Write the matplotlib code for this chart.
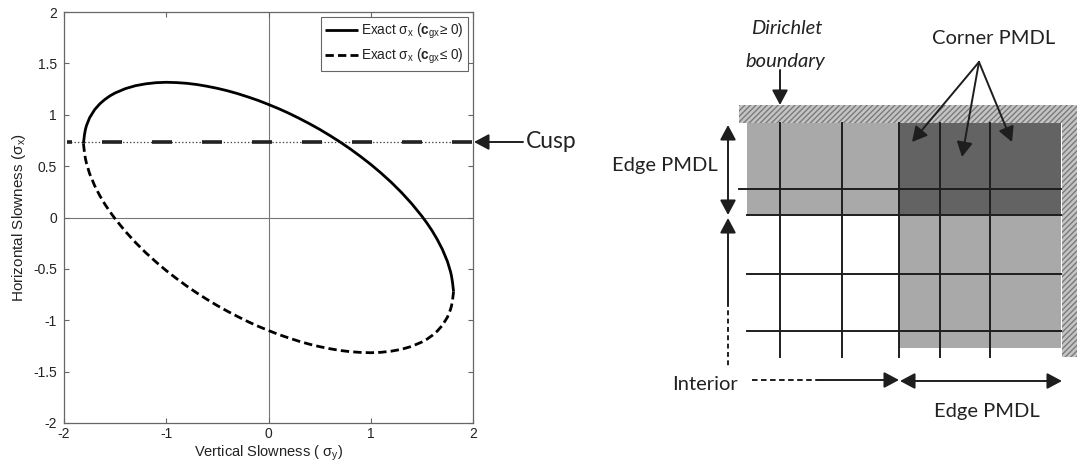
import matplotlib
matplotlib.use('Agg')
import matplotlib.pyplot as plt
from matplotlib.patches import Rectangle, FancyArrowPatch

plt.rcParams['font.family'] = ['Liberation Sans', 'DejaVu Sans']
plt.rcParams['mathtext.fontset'] = 'custom'
plt.rcParams['mathtext.rm'] = 'Liberation Sans'
plt.rcParams['mathtext.it'] = 'Liberation Sans:italic'
plt.rcParams['mathtext.bf'] = 'Liberation Sans:bold'
plt.rcParams['lines.scale_dashes'] = False
plt.rcParams['axes.unicode_minus'] = False

# slowness curve: sigma_y and the two sigma_x branches
sigma_y = [-1.81, -1.80, -1.79, -1.78, -1.75, -1.70, -1.65, -1.60, -1.55, -1.50, -1.40, -1.30,
           -1.20, -1.10, -1.00, -0.90, -0.80, -0.70, -0.60, -0.50, -0.40, -0.30, -0.20, -0.10,
           0.00, 0.10, 0.20, 0.30, 0.40, 0.50, 0.60, 0.70, 0.80, 0.90, 1.00, 1.10, 1.20, 1.30,
           1.40, 1.50, 1.55, 1.60, 1.65, 1.70, 1.75, 1.78, 1.79, 1.80, 1.81]
sx_pos = [0.720, 0.805, 0.859, 0.895, 0.970, 1.050, 1.106, 1.149, 1.184, 1.212, 1.254, 1.283,
          1.301, 1.312, 1.316, 1.313, 1.306, 1.294, 1.277, 1.257, 1.233, 1.205, 1.173, 1.139,
          1.100, 1.059, 1.014, 0.965, 0.913, 0.858, 0.798, 0.735, 0.667, 0.594, 0.517, 0.433,
          0.343, 0.244, 0.135, 0.013, -0.055, -0.129, -0.213, -0.309, -0.428, -0.527, -0.571,
          -0.634, -0.720]
sx_neg = [0.720, 0.634, 0.571, 0.527, 0.428, 0.309, 0.213, 0.129, 0.055, -0.013, -0.135, -0.244,
          -0.343, -0.433, -0.517, -0.594, -0.667, -0.735, -0.798, -0.858, -0.913, -0.965, -1.014,
          -1.059, -1.100, -1.139, -1.173, -1.205, -1.233, -1.257, -1.277, -1.294, -1.306, -1.313,
          -1.316, -1.312, -1.301, -1.283, -1.254, -1.212, -1.184, -1.149, -1.106, -1.050, -0.970,
          -0.895, -0.859, -0.805, -0.720]
cusp_sx = 0.73
cusp_range = [-1.97, 2.0]

x_ticks = [-2, -1, 0, 1, 2]
x_ticklabels = ['-2', '-1', '0', '1', '2']
y_ticks = [-2, -1.5, -1, -0.5, 0, 0.5, 1, 1.5, 2]
y_ticklabels = ['-2', '-1.5', '-1', '-0.5', '0', '0.5', '1', '1.5', '2']

# diagram grid (figure pixels)
grid_x = [780, 842, 899, 940, 990]
grid_y = [189, 215, 274, 331]

W, H = 1077, 468
fig = plt.figure(figsize=(W / 100, H / 100), dpi=100)

# ---- left: slowness plot ----
ax = fig.add_axes([64 / W, 1 - 423 / H, 409 / W, 411 / H], zorder=2)
gray = '#666666'
tc = '#222222'
ax.axhline(0, color='#777777', lw=0.8, zorder=1)
ax.axvline(0, color='#777777', lw=0.8, zorder=1)
ax.plot(cusp_range, [cusp_sx, cusp_sx], color='#444444', lw=0.9, linestyle=(0, (1.0, 1.5)), zorder=2)
ax.plot(cusp_range, [cusp_sx, cusp_sx], color='#222222', lw=2.6, linestyle=(10.8, (14.4, 21.6)), zorder=2)
ax.plot(sigma_y, sx_pos, color='black', lw=2.0, solid_capstyle='butt', solid_joinstyle='round',
        label=r'Exact σ$_\mathrm{x}$ ($\mathbf{c}_\mathrm{gx}$≥ 0)', zorder=3)
ax.plot(sigma_y, sx_neg, color='black', lw=2.0, linestyle=(0, (6, 3)),
        label=r'Exact σ$_\mathrm{x}$ ($\mathbf{c}_\mathrm{gx}$≤ 0)', zorder=3)

ax.set_xlim(-2, 2)
ax.set_ylim(-2, 2)
ax.set_xticks(x_ticks)
ax.set_xticklabels(x_ticklabels)
ax.set_yticks(y_ticks)
ax.set_yticklabels(y_ticklabels)
ax.tick_params(direction='in', length=3.5, width=0.8, color=gray, top=True, right=True,
               labelsize=10, labelcolor=tc)
ax.tick_params(axis='y', pad=5)
ax.tick_params(axis='x', pad=3)
for s in ax.spines.values():
    s.set_color(gray)
    s.set_linewidth(0.9)
ax.set_xlabel(r'Vertical Slowness ( σ$_\mathrm{y}$)', fontsize=10.5, color=tc, labelpad=2)
ax.set_ylabel(r'Horizontal Slowness (σ$_\mathrm{x}$)', fontsize=11, color=tc, labelpad=4)

leg = ax.legend(loc='upper right', fontsize=9.8, handlelength=2.4, handletextpad=0.2,
                fancybox=False, framealpha=1, edgecolor=gray, borderpad=0.35,
                labelspacing=0.45, borderaxespad=0.35)
leg.get_frame().set_linewidth(0.8)
for t in leg.get_texts():
    t.set_color(tc)

# ---- overlay in pixel coordinates ----
ov = fig.add_axes([0, 0, 1, 1], zorder=1)
ov.set_xlim(0, W)
ov.set_ylim(H, 0)
ov.axis('off')
ov.patch.set_alpha(0)

light = '#a9a9a9'
dark = '#636363'
ink = '#1e1e1e'
tfont = ['Lato', 'DejaVu Sans']
tsize = 14.5


def arrow(p0, p1, style='-|>', ls='-'):
    a = FancyArrowPatch(p0, p1, arrowstyle=style + ',head_length=0.9,head_width=0.48',
                        mutation_scale=10, color=ink, lw=1.4, linestyle=ls,
                        shrinkA=0, shrinkB=0, zorder=6)
    ov.add_patch(a)


def txt(x, y, s, style='normal'):
    ov.text(x, y, s, ha='center', va='center', fontsize=tsize, family=tfont,
            style=style, color='#222222')


# cusp pointer
arrow((523, 142), (474, 142))
ov.text(526, 141, 'Cusp', ha='left', va='center', fontsize=16.5, family=tfont, color='#222222')

# hatched Dirichlet boundary
ov.add_patch(Rectangle((739, 105), W - 739, 18, facecolor='#c4c4c4', edgecolor='#7a7a7a',
                       hatch='//////', lw=0, zorder=2))
ov.add_patch(Rectangle((1062, 123), W - 1062, 234, facecolor='#c4c4c4', edgecolor='#7a7a7a',
                       hatch='//////', lw=0, zorder=2))

# PMDL regions
ov.add_patch(Rectangle((747, 123), 152, 92, facecolor=light, lw=0, zorder=3))
ov.add_patch(Rectangle((899, 215), 162, 133, facecolor=light, lw=0, zorder=3))
ov.add_patch(Rectangle((899, 123), 162, 92, facecolor=dark, lw=0, zorder=3))

# grid lines
for gx in grid_x:
    ov.plot([gx, gx], [123, 357], color=ink, lw=1.4, zorder=4)
for i, gy in enumerate(grid_y):
    x0 = 739 if i == 0 else 747
    ov.plot([x0, 1061], [gy, gy], color=ink, lw=1.4, zorder=4)

# arrows
arrow((780, 70), (780, 105))
arrow((728, 125), (728, 215), style='<|-|>')
arrow((728, 302), (728, 218))
ov.plot([728, 728], [302, 368], color=ink, lw=1.4, linestyle=(0, (3.5, 2.5)), zorder=5)
ov.plot([752, 820], [380, 380], color=ink, lw=1.4, linestyle=(0, (4, 2.5)), zorder=5)
arrow((820, 380), (899, 380))
arrow((900, 381), (1062, 381), style='<|-|>')
apex = (979, 62)
for tip in [(912, 142), (962, 157), (1012, 142)]:
    arrow(apex, tip)

# labels
txt(787, 28, 'Dirichlet', style='italic')
txt(785, 61, 'boundary', style='italic')
txt(994, 38, 'Corner PMDL')
txt(665, 166, 'Edge PMDL')
txt(705, 385, 'Interior')
txt(987, 412, 'Edge PMDL')

fig.savefig('out.png', dpi=100)
